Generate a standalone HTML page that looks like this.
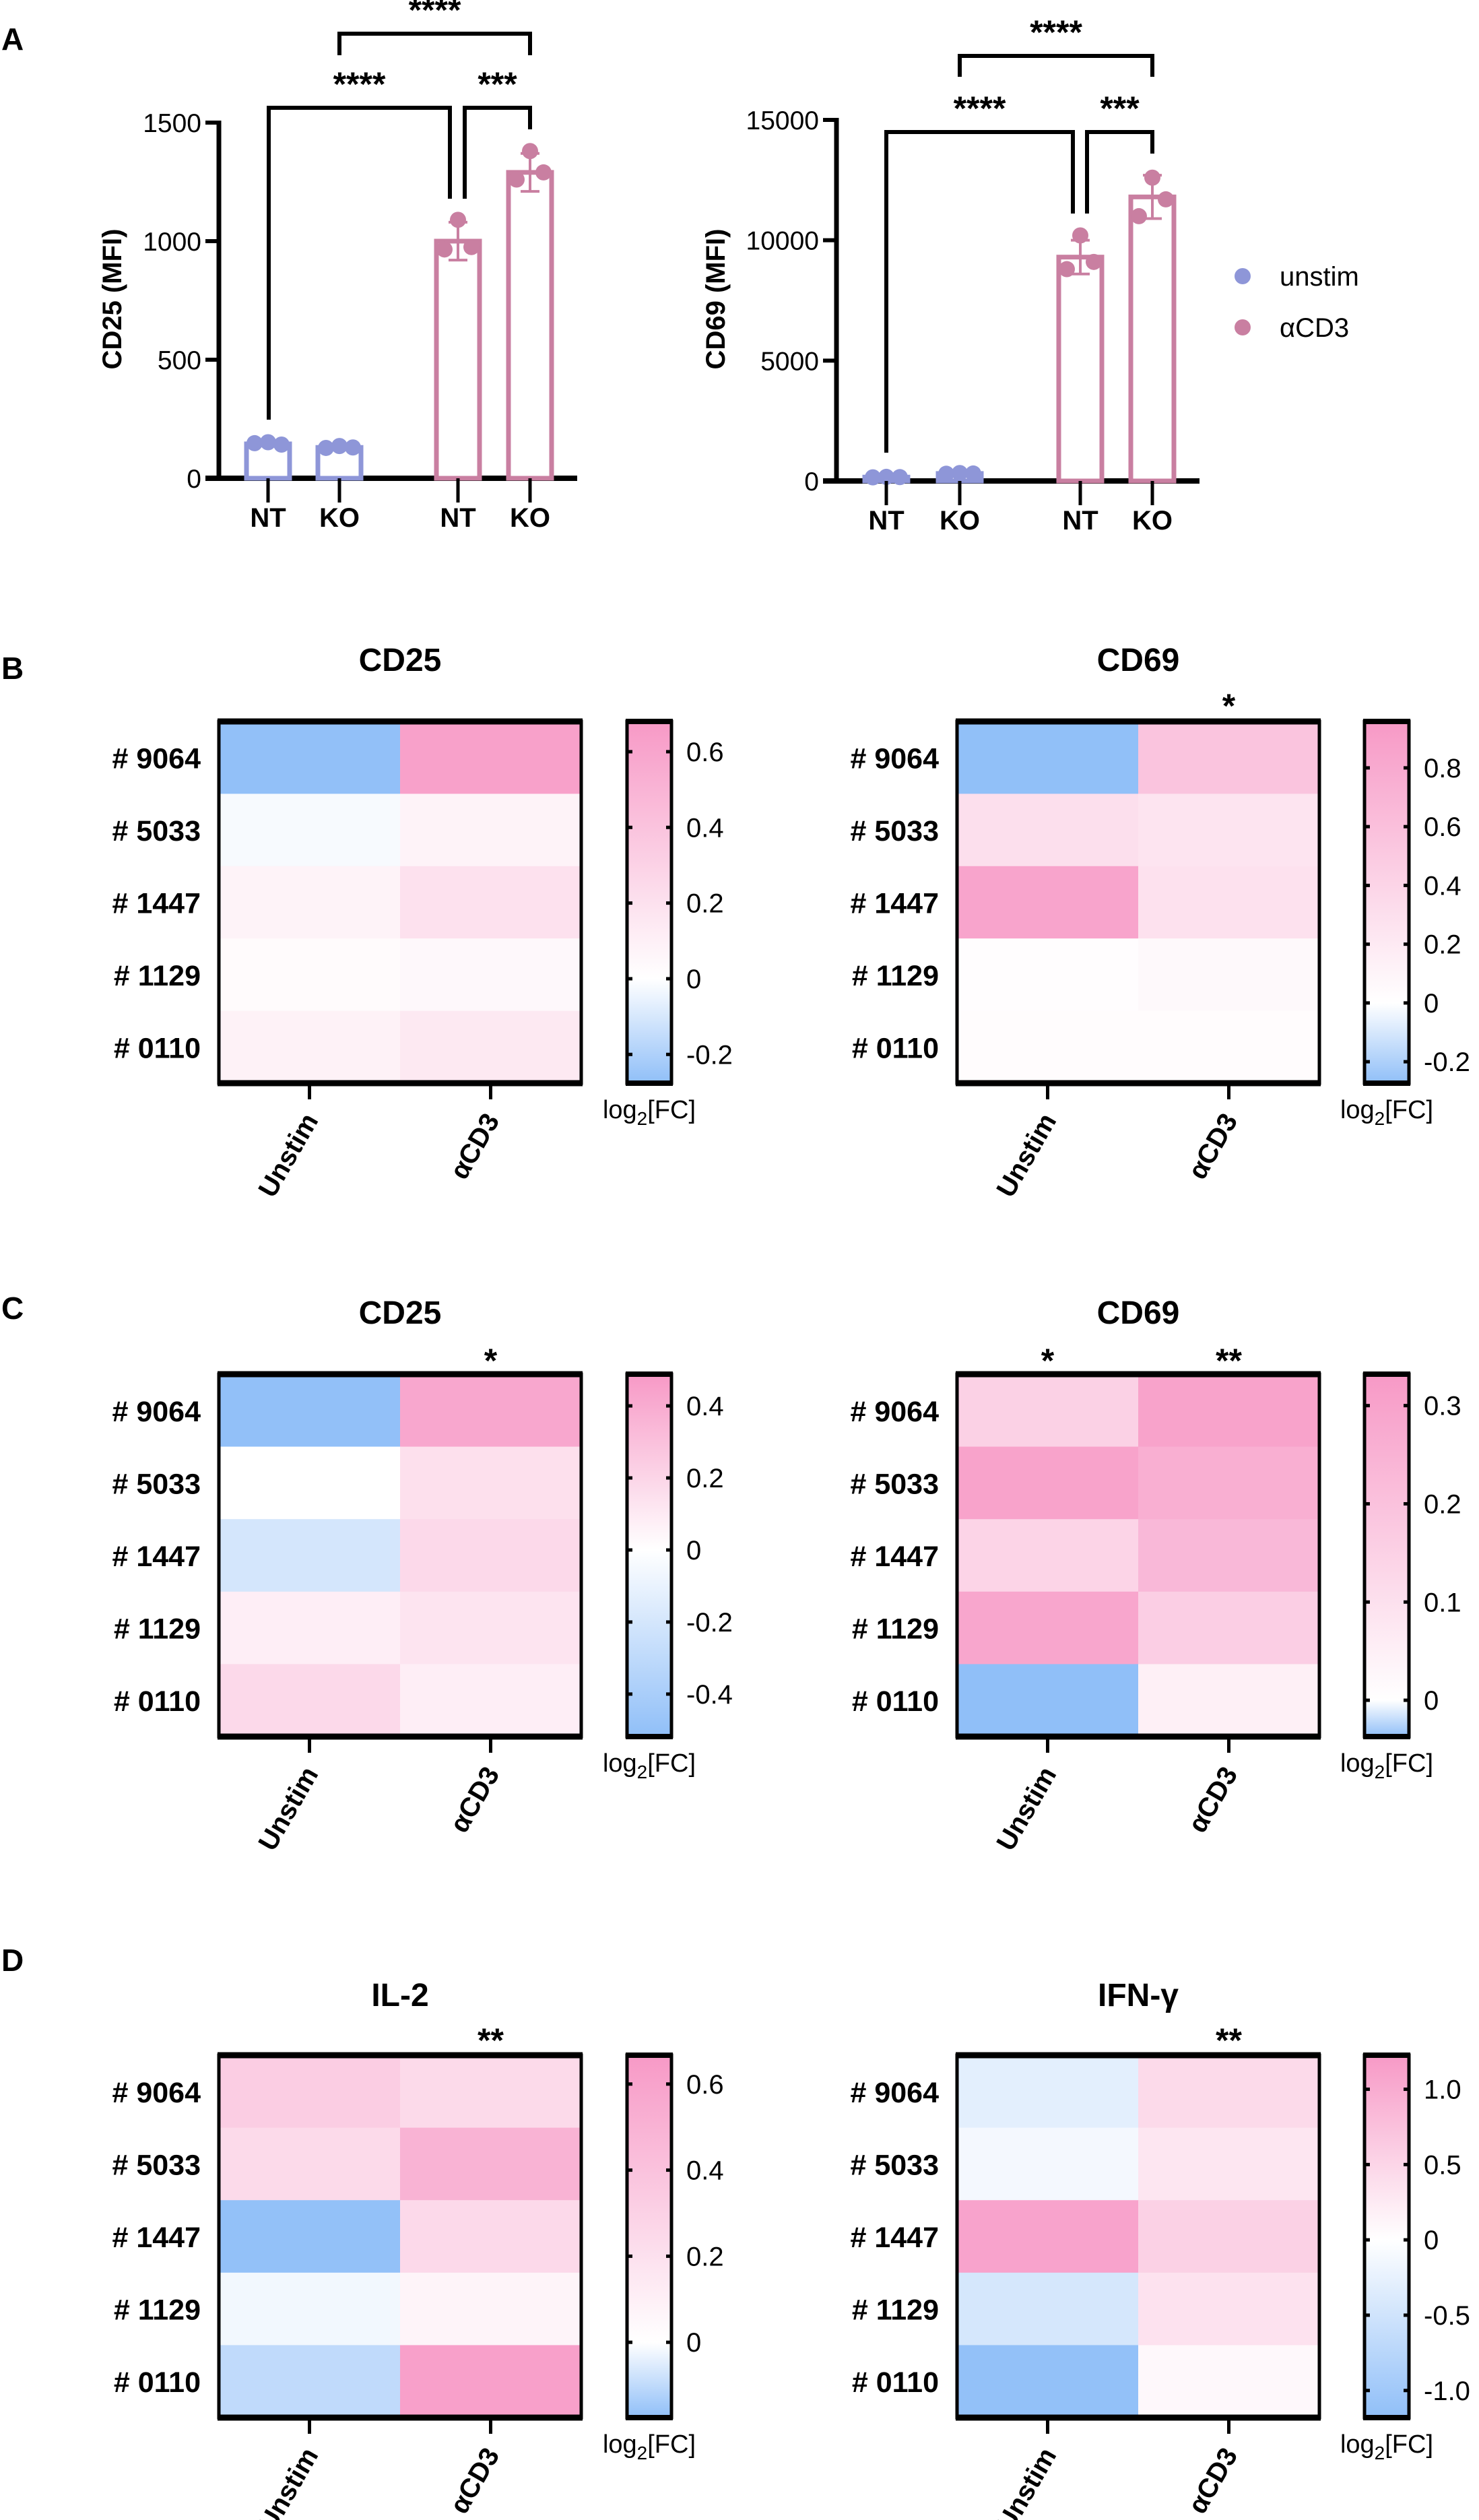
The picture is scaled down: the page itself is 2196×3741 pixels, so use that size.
<!DOCTYPE html>
<html><head><meta charset="utf-8"><style>
html,body{margin:0;padding:0;background:#fff}
svg{display:block}
text{font-family:"Liberation Sans",Arial,sans-serif}
</style></head><body>
<svg id="fig" xmlns="http://www.w3.org/2000/svg" width="2196" height="3741" viewBox="0 0 2196 3741">
<rect width="2196" height="3741" fill="#fff"/>
<g id="root"></g>
</svg>
<script>
// ---------- Panel A data ----------
const barGroups = ["NT","KO","NT","KO"];
const barSeries = ["unstim","unstim","aCD3","aCD3"];
const cd25Means = [145, 130, 1000, 1290];
const cd25Err = [8, 6, 80, 80];
const cd25Points = [[148,152,142],[128,136,130],[965,1090,975],[1260,1380,1290]];
const cd69Means = [160, 310, 9300, 11800];
const cd69Err = [20, 20, 700, 900];
const cd69Points = [[150,170,160],[300,330,310],[8800,10200,9100],[11000,12600,11700]];
const cd25Ticks = [0,500,1000,1500];
const cd69Ticks = [0,5000,10000,15000];

// ---------- Heatmap data ----------
const donors = ["# 9064","# 5033","# 1447","# 1129","# 0110"];
const conditions = ["Unstim","\u03b1CD3"];
const bCD25 = [[-0.27,0.63],[-0.02,0.08],[0.08,0.2],[0.03,0.05],[0.09,0.15]];
const bCD69 = [[-0.27,0.55],[0.3,0.25],[0.85,0.28],[0.02,0.06],[0.03,0.03]];
const cCD25 = [[-0.51,0.42],[0.0,0.15],[-0.2,0.18],[0.08,0.13],[0.18,0.08]];
const cCD69 = [[0.15,0.3],[0.3,0.26],[0.14,0.23],[0.29,0.16],[-0.037,0.05]];
const dIL2 = [[0.33,0.24],[0.24,0.5],[-0.17,0.25],[-0.02,0.07],[-0.1,0.62]];
const dIFN = [[-0.3,0.45],[-0.12,0.3],[1.1,0.55],[-0.45,0.35],[-1.15,0.08]];
const bCD25Ticks = [0.6,0.4,0.2,0,-0.2];
const bCD69Ticks = [0.8,0.6,0.4,0.2,0,-0.2];
const cCD25Ticks = [0.4,0.2,0,-0.2,-0.4];
const cCD69Ticks = [0.3,0.2,0.1,0];
const dIL2Ticks = [0.6,0.4,0.2,0];
const dIFNTicks = [1.0,0.5,0,-0.5,-1.0];
const dIFNTickLabels = ["1.0","0.5","0","-0.5","-1.0"];

const NS="http://www.w3.org/2000/svg";
const root=document.getElementById('root');
function el(tag,attrs,parent,txt){const e=document.createElementNS(NS,tag);for(const k in attrs)e.setAttribute(k,attrs[k]);if(txt!==undefined)e.textContent=txt;(parent||root).appendChild(e);return e;}

const UN="#8e96d8", AC="#c97fa1";

[["A",58],["B",992],["C",1942],["D",2910]].forEach(([t,y])=>{
  const e=el('text',{x:2,y:y+16,'font-size':46,'font-weight':'bold'},root,t);
  
  
});

function barChart(o){
  const g=el('g',{});
  
  
  const y=v=>o.y0-v*(o.y0-o.yTop)/o.max;
  const ax=el('line',{x1:o.ax,y1:o.yTop-3,x2:o.ax,y2:o.y0,stroke:'#000','stroke-width':7},g);
  
  o.ticks.forEach(t=>{
    el('line',{x1:o.ax-20,y1:y(t),x2:o.ax,y2:y(t),stroke:'#000','stroke-width':6},g);
    const tl=el('text',{x:o.ax-26,y:y(t)+14,'font-size':39,'text-anchor':'end'},g,t);
    
  });
  const xa=el('line',{x1:o.ax-20,y1:o.y0,x2:o.xEnd,y2:o.y0,stroke:'#000','stroke-width':8},g);
  
  const yl=el('text',{x:0,y:0,'font-size':40,'font-weight':'bold','text-anchor':'middle',transform:`translate(${o.ylx},${o.yly}) rotate(-90)`},g,o.ylabel);
  
  barGroups.forEach((lab,i)=>{
    const cx=o.xs[i], col=barSeries[i]==='unstim'?UN:AC, m=o.means[i];
    const b=el('rect',{x:cx-32,y:y(m),width:64,height:o.y0-y(m),fill:'#fff',stroke:col,'stroke-width':7},g);
    
    
    const e=o.err[i];
    el('line',{x1:cx,y1:y(m+e),x2:cx,y2:y(m-e),stroke:col,'stroke-width':4},g);
    el('line',{x1:cx-14,y1:y(m+e),x2:cx+14,y2:y(m+e),stroke:col,'stroke-width':4},g);
    el('line',{x1:cx-14,y1:y(m-e),x2:cx+14,y2:y(m-e),stroke:col,'stroke-width':4},g);
    const offs=[-20,0,20];
    o.pts[i].forEach((v,j)=>{
      const p=el('circle',{cx:cx+offs[j],cy:y(v),r:12,fill:col},g);
      
    });
    el('line',{x1:cx,y1:o.y0,x2:cx,y2:o.y0+36,stroke:'#000','stroke-width':5},g);
    const xl=el('text',{x:cx,y:o.y0+72,'font-size':40,'font-weight':'bold','text-anchor':'middle'},g,lab);
    
  });
  o.brackets.forEach(br=>{
    const p=el('path',{d:`M${br[0]},${br[3]} L${br[0]},${br[2]} L${br[1]},${br[2]} L${br[1]},${br[4]}`,fill:'none',stroke:'#000','stroke-width':6},g);
    
    const s=el('text',{x:(br[0]+br[1])/2,y:br[2]-18,'font-size':50,'font-weight':'bold','text-anchor':'middle'},g,br[5]);
    
  });
}
barChart({name:'cd25-bar-chart',ax:325,y0:710,yTop:182,max:1500,xEnd:857,ticks:cd25Ticks,means:cd25Means,err:cd25Err,pts:cd25Points,
  xs:[398,504,680,787],ylabel:'CD25 (MFI)',ylx:180,yly:444,
  brackets:[[504,787,50,82,82,'****'],[399,668,160,623,295,'****'],[690,787,160,295,192,'***']]});
barChart({name:'cd69-bar-chart',ax:1242,y0:714,yTop:178,max:15000,xEnd:1781,ticks:cd69Ticks,means:cd69Means,err:cd69Err,pts:cd69Points,
  xs:[1316,1425,1604,1711],ylabel:'CD69 (MFI)',ylx:1076,yly:444,
  brackets:[[1425,1711,83,114,114,'****'],[1316,1593,196,672,317,'****'],[1614,1711,196,317,228,'***']]});
[["unstim",410,UN],["\u03b1CD3",486,AC]].forEach(([t,yy,c])=>{
  const d=el('circle',{cx:1845,cy:yy,r:12,fill:c});
  
  const tx=el('text',{x:1900,y:yy+14,'font-size':40},root,t);
  
});

const BLUE=[144,191,248], PINK=[247,153,198];
function colorFor(v,min,max){
  let c,f;
  if(v>=0){f=Math.min(1,v/max);c=PINK;}else{f=Math.min(1,v/min);c=BLUE;}
  const r=Math.round(255+(c[0]-255)*f),g=Math.round(255+(c[1]-255)*f),b=Math.round(255+(c[2]-255)*f);
  return `rgb(${r},${g},${b})`;
}
let gid=0;
function heatmap(o){
  const g=el('g',{});
  
  
  const top=o.top,bot=o.bot,x0=o.x0,x1=o.x0+538,cw=(x1-x0)/2,rh=(bot-top)/5;
  const t=el('text',{x:(x0+x1)/2,y:o.titleY+17,'font-size':48,'font-weight':'bold','text-anchor':'middle'},g,o.title);
  
  o.data.forEach((row,i)=>{
    row.forEach((v,j)=>{
      const r=el('rect',{x:x0+j*cw,y:top+i*rh,width:cw+0.5,height:rh+0.5,fill:colorFor(v,o.min,o.max)},g);
      
    });
    const rl=el('text',{x:x0-27,y:top+i*rh+rh/2+16,'font-size':43,'font-weight':'bold','text-anchor':'end'},g,donors[i]);
    
  });
  el('rect',{x:x0,y:top,width:x1-x0,height:bot-top,fill:'none',stroke:'#000','stroke-width':5},g);
  el('line',{x1:x0-2,y1:top,x2:x1+2,y2:top,stroke:'#000','stroke-width':9},g);
  el('line',{x1:x0-2,y1:bot,x2:x1+2,y2:bot,stroke:'#000','stroke-width':9},g);
  conditions.forEach((c,j)=>{
    const cx=x0+cw*j+cw/2;
    el('line',{x1:cx,y1:bot,x2:cx,y2:bot+24,stroke:'#000','stroke-width':5},g);
    const cl=el('text',{x:0,y:0,'font-size':40,'font-weight':'bold','text-anchor':'end',transform:`translate(${cx+14},${bot+55}) rotate(-60)`},g,c);
    
    if(o.stars[j]){
      const s=el('text',{x:cx,y:o.starY+22,'font-size':50,'font-weight':'bold','text-anchor':'middle'},g,o.stars[j]);
      
    }
  });
  const cbx=o.cbx,cbw=66,id='grad'+(gid++);
  const defs=el('defs',{},g);
  const lg=el('linearGradient',{id:id,x1:0,y1:1,x2:0,y2:0},defs);
  const zo=(-o.min)/(o.max-o.min);
  el('stop',{offset:0,'stop-color':`rgb(${BLUE})`},lg);
  el('stop',{offset:zo,'stop-color':'#fff'},lg);
  el('stop',{offset:1,'stop-color':`rgb(${PINK})`},lg);
  const cb=el('rect',{x:cbx,y:top,width:cbw,height:bot-top,fill:`url(#${id})`,stroke:'#000','stroke-width':5},g);
  
  el('line',{x1:cbx-2,y1:top,x2:cbx+cbw+2,y2:top,stroke:'#000','stroke-width':8},g);
  el('line',{x1:cbx-2,y1:bot,x2:cbx+cbw+2,y2:bot,stroke:'#000','stroke-width':8},g);
  const cy=v=>bot-(v-o.min)/(o.max-o.min)*(bot-top);
  o.ticks.forEach((tv,k)=>{
    const yy=cy(tv);
    el('line',{x1:cbx,y1:yy,x2:cbx+8,y2:yy,stroke:'#000','stroke-width':5},g);
    el('line',{x1:cbx+cbw-8,y1:yy,x2:cbx+cbw,y2:yy,stroke:'#000','stroke-width':5},g);
    const lab=o.tickLabels?o.tickLabels[k]:String(tv);
    const tl=el('text',{x:cbx+88,y:yy+14,'font-size':40},g,lab);
    
  });
  const lt=el('text',{x:cbx+33,y:bot+52,'font-size':38,'text-anchor':'middle'},g);
  
  el('tspan',{},lt,'log');
  el('tspan',{dy:10,'font-size':28},lt,'2');
  el('tspan',{dy:-10},lt,'[FC]');
}
heatmap({name:'b-cd25-heatmap',title:'CD25',x0:325,top:1071,bot:1608,titleY:979,starY:1043,stars:['',''],data:bCD25,min:-0.276,max:0.68,ticks:bCD25Ticks,cbx:931});
heatmap({name:'b-cd69-heatmap',title:'CD69',x0:1421,top:1071,bot:1608,titleY:979,starY:1043,stars:['','*'],data:bCD69,min:-0.273,max:0.958,ticks:bCD69Ticks,cbx:2026});
heatmap({name:'c-cd25-heatmap',title:'CD25',x0:325,top:2040,bot:2578,titleY:1948,starY:2015,stars:['','*'],data:cCD25,min:-0.518,max:0.488,ticks:cCD25Ticks,cbx:931});
heatmap({name:'c-cd69-heatmap',title:'CD69',x0:1421,top:2040,bot:2578,titleY:1948,starY:2015,stars:['*','**'],data:cCD69,min:-0.037,max:0.332,ticks:cCD69Ticks,cbx:2026});
heatmap({name:'d-il2-heatmap',title:'IL-2',x0:325,top:3051,bot:3589,titleY:2961,starY:3024,stars:['','**'],data:dIL2,min:-0.175,max:0.667,ticks:dIL2Ticks,cbx:931});
heatmap({name:'d-ifng-heatmap',title:'IFN-\u03b3',x0:1421,top:3051,bot:3589,titleY:2961,starY:3024,stars:['','**'],data:dIFN,min:-1.18,max:1.226,ticks:dIFNTicks,tickLabels:dIFNTickLabels,cbx:2026});
</script>
</body></html>
